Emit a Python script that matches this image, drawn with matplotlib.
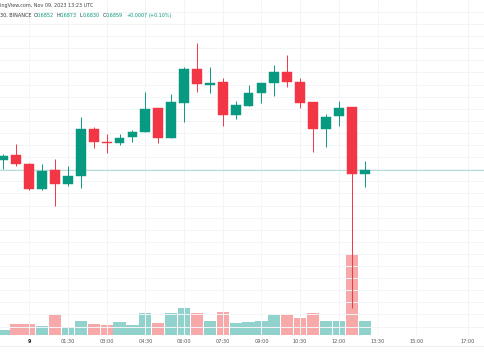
import matplotlib
matplotlib.use("Agg")
import matplotlib.pyplot as plt
import numpy as np

# 30 min candles, 23:00 (Nov 8) .. 13:00 (Nov 9)
opens = [0.6875, 0.6884, 0.6869, 0.6827, 0.6859, 0.6836, 0.6849, 0.6927, 0.6905, 0.6903,
         0.6913, 0.6922, 0.6961, 0.6912, 0.6970, 0.7026, 0.6999, 0.7004, 0.6950, 0.6965,
         0.6986, 0.7003, 0.7021, 0.7004, 0.6971, 0.6927, 0.6948, 0.6963, 0.6852]
highs = [0.6885, 0.6902, 0.6870, 0.6869, 0.6877, 0.6865, 0.6946, 0.6930, 0.6918, 0.6918,
         0.6925, 0.6988, 0.6961, 0.6984, 0.7029, 0.7069, 0.7029, 0.7011, 0.6973, 0.6999,
         0.7003, 0.7032, 0.7049, 0.7011, 0.6971, 0.6951, 0.6973, 0.6963, 0.6873]
lows = [0.6860, 0.6865, 0.6826, 0.6826, 0.6799, 0.6832, 0.6829, 0.6895, 0.6887, 0.6900,
        0.6905, 0.6922, 0.6903, 0.6912, 0.6938, 0.6988, 0.6986, 0.6932, 0.6943, 0.6965,
        0.6970, 0.6981, 0.6996, 0.6961, 0.6889, 0.6897, 0.6932, 0.6631, 0.6830]
closes = [0.6882, 0.6869, 0.6827, 0.6857, 0.6836, 0.6849, 0.6927, 0.6905, 0.6903, 0.6912,
          0.6922, 0.6960, 0.6912, 0.6971, 0.7026, 0.7001, 0.7003, 0.6950, 0.6966, 0.6986,
          0.7003, 0.7021, 0.7004, 0.6970, 0.6927, 0.6946, 0.6961, 0.6852, 0.6859]
volumes = [50, 107, 107, 90, 197, 83, 140, 110, 103, 130, 103, 217, 120, 217, 270,
           220, 140, 230, 117, 130, 137, 203, 210, 167, 223, 137, 143, 810, 137]

tick_pos = [2, 5, 8, 11, 14, 17, 20, 23, 26, 29, 32, 36]
tick_labels = ["9", "01:30", "03:00", "04:30", "06:00", "07:30", "09:00",
               "10:30", "12:00", "13:30", "15:00", "17:00"]
last_price = 0.6859

UP = "#089981"
DOWN = "#f23645"
UP_VOL = "#92d2cc"
DOWN_VOL = "#f7a9a9"
GRID = "#f2f4f8"

W, H = 485, 360
fig = plt.figure(figsize=(W / 100, H / 100), dpi=100)
fig.patch.set_facecolor("white")

pane_bottom = 335
ax = fig.add_axes([0, 1 - pane_bottom / H, 1, pane_bottom / H])
x = np.arange(len(opens))
o = np.array(opens); c = np.array(closes)
hi = np.array(highs); lo = np.array(lows)
up = c >= o
cols = np.where(up, UP, DOWN)

ax.set_xlim(-0.27, 37.33)
ax.set_ylim(0.65861, 0.71398)

# volume overlay
vax = ax.twinx()
vax.set_ylim(0, 3350)
vax.bar(x, volumes, width=0.95, color=np.where(up, UP_VOL, DOWN_VOL), zorder=1)
vax.axis("off")

ax.set_zorder(vax.get_zorder() + 1)
ax.patch.set_visible(False)

ax.vlines(x, lo, hi, colors=cols, linewidth=0.7, zorder=3)
body_lo = np.minimum(o, c)
body_h = np.maximum(np.abs(c - o), 0.00012)
ax.bar(x, body_h, bottom=body_lo, width=0.76, color=cols, edgecolor=cols,
       linewidth=0.3, zorder=4)

ax.axhline(last_price, color=UP, alpha=0.3, linewidth=0.8, zorder=2)

ax.set_yticks(np.arange(0.660, 0.714, 0.002))
ax.set_xticks(tick_pos)
ax.set_xticklabels(tick_labels)
ax.grid(True, color=GRID, linewidth=0.7, zorder=0)
ax.tick_params(axis="y", left=False, labelleft=False)
ax.tick_params(axis="x", length=0, pad=3.2, labelsize=3.6, labelcolor="#555555")
ax.get_xticklabels()[0].set_fontweight("bold")
ax.get_xticklabels()[0].set_color("#222222")
for s in ax.spines.values():
    s.set_visible(False)

# thin separator under time axis
fig.add_artist(plt.Line2D([0, 1], [1 - 346 / H] * 2, color="#f0f0f0", linewidth=0.8))

def ftext(px, py, s, color, **kw):
    fig.text(px / W, 1 - py / H, s, color=color, fontsize=3.5, va="center", ha="left", **kw)

ftext(0, 5.5, "ingView.com, Nov 09, 2023 13:23 UTC", "#444444")
ftext(0, 15.5, "30, BINANCE", "#333333")
ftext(33.7, 15.5, "O", "#333333")
ftext(37, 15.5, "0.6852", UP)
ftext(57, 15.5, "H", "#333333")
ftext(60, 15.5, "0.6873", UP)
ftext(80, 15.5, "L", "#333333")
ftext(83, 15.5, "0.6830", UP)
ftext(103, 15.5, "C", "#333333")
ftext(106, 15.5, "0.6859", UP)
ftext(126, 15.5, "+0.0007", UP)
ftext(149, 15.5, "(+0.10%)", UP)

fig.savefig("out.png", dpi=100, facecolor="white")
